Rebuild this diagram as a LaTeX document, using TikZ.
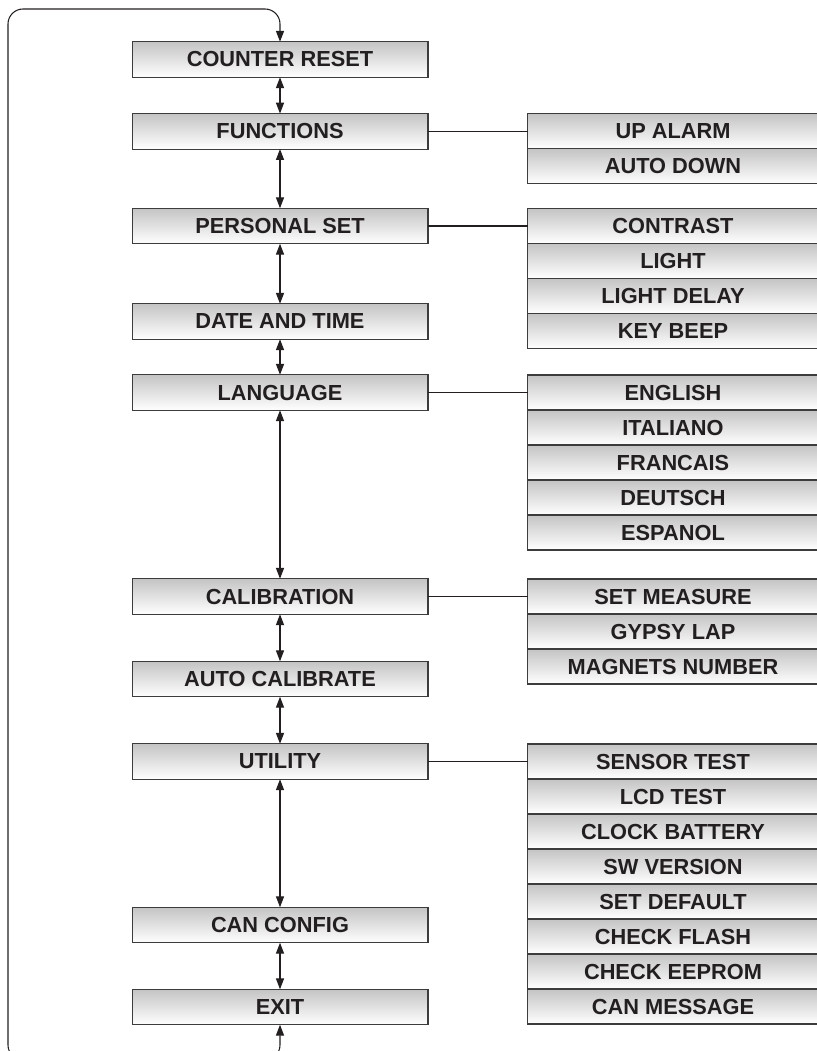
\documentclass[tikz,border=0pt]{standalone}
\usepackage{fontspec}
\setmainfont{Liberation Sans}
\usetikzlibrary{arrows.meta, positioning}
\definecolor{inkdark}{RGB}{35, 31, 32}
\definecolor{boxline}{RGB}{60, 60, 60}
\definecolor{shadetop}{RGB}{196, 196, 196}

\begin{document}
\begin{tikzpicture}[x=0.02cm, y=-0.02cm,
        font=\fontsize{12.4}{14}\selectfont\bfseries,
        mainbox/.style={rectangle, draw=boxline, line width=0.6pt, top color=shadetop, bottom color=white,
                        text=inkdark, minimum width=5.92cm, minimum height=0.71cm, inner sep=0pt, outer sep=0pt},
        subbox/.style={mainbox, minimum width=5.82cm, minimum height=0.7cm},
        link/.style={draw=inkdark, line width=0.6pt},
        nav/.style={link, {Triangle[length=6.2pt, width=4.6pt]}-{Triangle[length=6.2pt, width=4.6pt]}}
    ]
        \useasboundingbox (0,0) rectangle (817,1051);
        \clip (0,0) rectangle (817,1051);
        % main menu
        \node[mainbox] (cnt)     at (280,59.5)  {COUNTER RESET};
        \node[mainbox] (func)    at (280,131.3) {FUNCTIONS};
        \node[mainbox] (pers)    at (280,226)   {PERSONAL SET};
        \node[mainbox] (date)    at (280,321.5) {DATE AND TIME};
        \node[mainbox] (lang)    at (280,392.5) {LANGUAGE};
        \node[mainbox] (calib)   at (280,596.5) {CALIBRATION};
        \node[mainbox] (autocal) at (280,679)   {AUTO CALIBRATE};
        \node[mainbox] (util)    at (280,761.5) {UTILITY};
        \node[mainbox] (canc)    at (280,925)   {CAN CONFIG};
        \node[mainbox] (exit)    at (280,1007)  {EXIT};
        % sub menus
        \node[subbox] (upal)   at (673,131.3)       {UP ALARM};
        \node[subbox] (autodn) at (673,166.3)       {AUTO DOWN};
        \node[subbox] (contr)  at (673,226)         {CONTRAST};
        \node[subbox] (light)  at (673,261)         {LIGHT};
        \node[subbox] (lightd) at (673,296)         {LIGHT DELAY};
        \node[subbox] (beep)   at (673,331)         {KEY BEEP};
        \node[subbox] (eng)    at (673,392.5)       {ENGLISH};
        \node[subbox] (ita)    at (673,427.5)       {ITALIANO};
        \node[subbox] (fra)    at (673,462.5)       {FRANCAIS};
        \node[subbox] (deu)    at (673,497.5)       {DEUTSCH};
        \node[subbox] (esp)    at (673,532.5)       {ESPANOL};
        \node[subbox] (setm)   at (673,596.5)       {SET MEASURE};
        \node[subbox] (gyp)    at (673,631.5)       {GYPSY LAP};
        \node[subbox] (magn)   at (673,666.5)       {MAGNETS NUMBER};
        \node[subbox] (senst)  at (673,761.5)       {SENSOR TEST};
        \node[subbox] (lcdt)   at (673,796.5)       {LCD TEST};
        \node[subbox] (clkb)   at (673,831.5)       {CLOCK BATTERY};
        \node[subbox] (swv)    at (673,866.5)       {SW VERSION};
        \node[subbox] (setd)   at (673,901.5)       {SET DEFAULT};
        \node[subbox] (chkf)   at (673,936.5)       {CHECK FLASH};
        \node[subbox] (chke)   at (673,971.5)       {CHECK EEPROM};
        \node[subbox] (canm)   at (673,1006.5)      {CAN MESSAGE};
        % links to sub menus
        \draw[link] (func) -- (upal);
        \draw[link] (pers) -- (contr);
        \draw[link] (lang) -- (eng);
        \draw[link] (calib) -- (setm);
        \draw[link] (util) -- (senst);
        % up/down navigation
        \draw[nav] (cnt) -- (func);
        \draw[nav] (func) -- (pers);
        \draw[nav] (pers) -- (date);
        \draw[nav] (date) -- (lang);
        \draw[nav] (lang) -- (calib);
        \draw[nav] (calib) -- (autocal);
        \draw[nav] (autocal) -- (util);
        \draw[nav] (util) -- (canc);
        \draw[nav] (canc) -- (exit);
        % wrap around
        \draw[nav, rounded corners=0.3cm] (exit.south) -- (280,1060) -- (8,1060) -- (8,9) -- (280,9) -- (cnt.north);
    \end{tikzpicture}
\end{document}
